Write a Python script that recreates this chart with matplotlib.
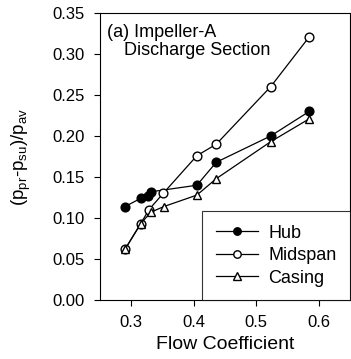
import matplotlib
matplotlib.use("Agg")
import matplotlib.pyplot as plt

plt.rcParams['font.family'] = ['Liberation Sans', 'DejaVu Sans']
plt.rcParams['mathtext.fontset'] = 'custom'
plt.rcParams['mathtext.rm'] = 'Liberation Sans'
plt.rcParams['mathtext.it'] = 'Liberation Sans'

hub_x = [0.290, 0.315, 0.327, 0.331, 0.405, 0.436, 0.523, 0.585]
hub_y = [0.114, 0.124, 0.127, 0.132, 0.140, 0.168, 0.200, 0.230]
mid_x = [0.290, 0.315, 0.328, 0.351, 0.405, 0.436, 0.523, 0.585]
mid_y = [0.062, 0.093, 0.110, 0.130, 0.176, 0.190, 0.260, 0.321]
cas_x = [0.290, 0.315, 0.331, 0.352, 0.405, 0.436, 0.523, 0.585]
cas_y = [0.062, 0.093, 0.107, 0.114, 0.128, 0.148, 0.193, 0.221]

xticks = [0.3, 0.4, 0.5, 0.6]
yticks = [0.00, 0.05, 0.10, 0.15, 0.20, 0.25, 0.30, 0.35]

fig = plt.figure(figsize=(3.51, 3.59), dpi=100)
ax = fig.add_axes([0.285, 0.164, 0.712, 0.800])

ms = 6.3
ax.plot(hub_x, hub_y, '-o', color='black', mfc='black', ms=ms, lw=0.9, label='Hub')
ax.plot(mid_x, mid_y, '-o', color='black', mfc='white', ms=ms, lw=0.9, label='Midspan')
ax.plot(cas_x, cas_y, '-^', color='black', mfc='white', ms=ms, lw=0.9, label='Casing')

ax.set_xlim(0.25, 0.65)
ax.set_ylim(0.0, 0.35)
ax.set_xticks(xticks)
ax.set_xticklabels([f'{v:.1f}' for v in xticks])
ax.set_yticks(yticks)
ax.set_yticklabels([f'{v:.2f}' for v in yticks])
ax.tick_params(labelsize=12, direction='out', length=4, width=0.8, pad=7)
for s in ax.spines.values():
    s.set_linewidth(0.8)

ax.set_xlabel('Flow Coefficient', fontsize=14, labelpad=4)
ax.set_ylabel(r'(p$_{pr}$-p$_{su}$)/p$_{av}$', fontsize=13.5, labelpad=14)

ax.text(0.028, 0.916, '(a) Impeller-A', transform=ax.transAxes,
        ha='left', va='baseline', fontsize=13)
ax.text(0.096, 0.852, 'Discharge Section', transform=ax.transAxes,
        ha='left', va='baseline', fontsize=13)

leg = ax.legend(loc='lower right', fontsize=13, frameon=True, fancybox=False,
                edgecolor='black', borderaxespad=0.0, handlelength=2.35,
                labelspacing=0.3, borderpad=0.75, handletextpad=0.55,
                markerscale=0.85)
leg.get_frame().set_linewidth(0.8)

fig.savefig('out.png', dpi=100)
